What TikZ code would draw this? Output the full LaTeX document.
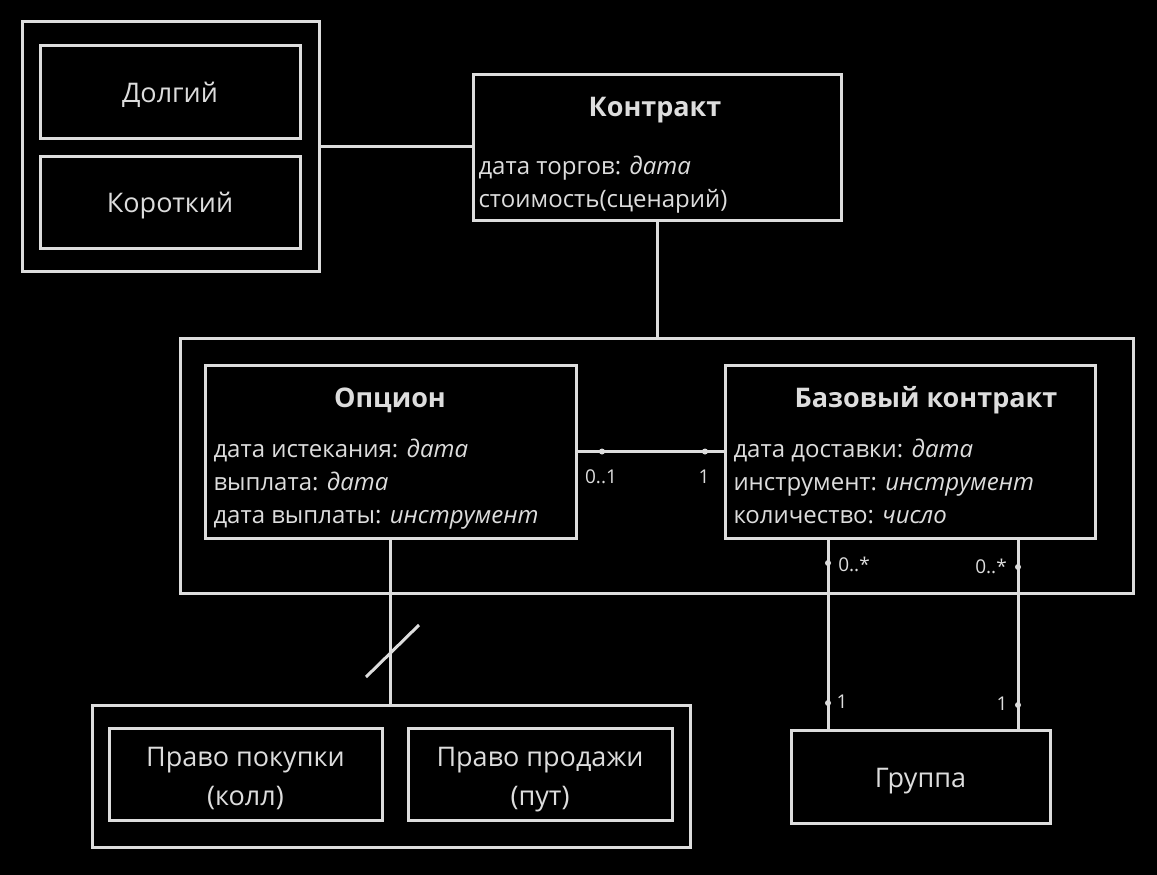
\documentclass[tikz,border=0pt]{standalone}
\usepackage{fontspec}
\setmainfont{Open Sans}
\usetikzlibrary{positioning}
\definecolor{fg}{HTML}{DDDDDD}

\begin{document}
\begin{tikzpicture}[x=1pt,y=-1pt,line width=3pt,draw=fg,text=fg,
    umlbox/.style={shape=rectangle,draw=fg,fill=black,inner sep=0pt,font=\fontsize{27}{39}\selectfont,text height=21.6pt,text depth=0pt},
    title/.style={font=\fontsize{27}{36}\selectfont\bfseries,anchor=base,inner sep=0pt},
    attrs/.style={font=\fontsize{24}{33}\selectfont,align=left,anchor=base west,inner sep=0pt},
    lines/.style={font=\fontsize{27}{39}\selectfont,align=center,anchor=base,inner sep=0pt},
    mult/.style={font=\fontsize{19}{22}\selectfont,inner sep=0pt},
    dot/.style={shape=circle,fill=fg,inner sep=0pt,minimum size=6pt}]
    \fill[black](0, 0) rectangle (1157, 875);
    \useasboundingbox (0, 0) rectangle (1157, 875);
    % long / short
    \node[umlbox,minimum width=297pt,minimum height=249pt](kind)at(170.5, 146.5){};
    \node[umlbox,minimum width=260pt,minimum height=92pt](long)at(170, 92){Долгий};
    \node[umlbox,minimum width=260pt,minimum height=92pt](short)at(170, 202){Короткий};
    % contract
    \node[umlbox,minimum width=368pt,minimum height=145pt](contract)at(657, 147.5){};
    \node[title](contracttitle)at(655, 117){Контракт};
    \node[attrs](contractattrs)at(477, 207){дата торгов: \textit{дата}\\стоимость(сценарий)};
    % derivatives
    \node[umlbox,minimum width=953pt,minimum height=255pt](deriv)at(656.5, 465.5){};
    \node[umlbox,minimum width=371pt,minimum height=173pt](option)at(390.5, 451.5){};
    \node[title](optiontitle)at(390, 407){Опцион};
    \node[attrs](optionattrs)at(212, 523){дата истекания: \textit{дата}\\выплата: \textit{дата}\\дата выплаты: \textit{инструмент}};
    \node[umlbox,minimum width=370pt,minimum height=173pt](base)at(910, 451.5){};
    \node[title](basetitle)at(926, 407){Базовый контракт};
    \node[attrs](baseattrs)at(732, 523){дата доставки: \textit{дата}\\инструмент: \textit{инструмент}\\количество: \textit{число}};
    % pool
    \node[umlbox,minimum width=259pt,minimum height=93pt](pool)at(920.5, 776.5){Группа};
    % call / put
    \node[umlbox,minimum width=598pt,minimum height=142pt](style)at(391, 776){};
    \node[umlbox,minimum width=273pt,minimum height=92pt](call)at(245.5, 774){};
    \node[lines](calltext)at(245.5, 805){Право покупки\\(колл)};
    \node[umlbox,minimum width=264pt,minimum height=92pt](put)at(540, 774){};
    \node[lines](puttext)at(540, 805){Право продажи\\(пут)};

    \coordinate(leg1)at(828, 0);
    \coordinate(leg2)at(1018, 0);
    \coordinate(cut)at(392.5, 651);
    \draw (kind.east) -- (kind.east -| contract.west);
    \draw (contract.south) -- (contract.south |- deriv.north);
    \draw (option.east) -- (base.west);
    \draw (option.south) -- (option.south |- style.north);
    \draw ([shift={(-26.5,26)}]cut) -- ([shift={(26.5,-26)}]cut);
    \draw (leg1 |- base.south) -- (leg1 |- pool.north);
    \draw (leg2 |- base.south) -- (leg2 |- pool.north);

    \node[dot](d1)at(602, 451.5){};
    \node[dot](d2)at(705, 451.5){};
    \node[dot](d3)at(828, 563){};
    \node[dot](d4)at(828, 703){};
    \node[dot](d5)at(1018, 567){};
    \node[dot](d6)at(1018, 705){};
    \node[mult](m1)at(601, 477){0..1};
    \node[mult](m2)at(704, 477){1};
    \node[mult](m3)at(854, 564){0..*};
    \node[mult](m4)at(991, 566){0..*};
    \node[mult](m5)at(842, 702){1};
    \node[mult](m6)at(1002, 704){1};
\end{tikzpicture}
\end{document}
